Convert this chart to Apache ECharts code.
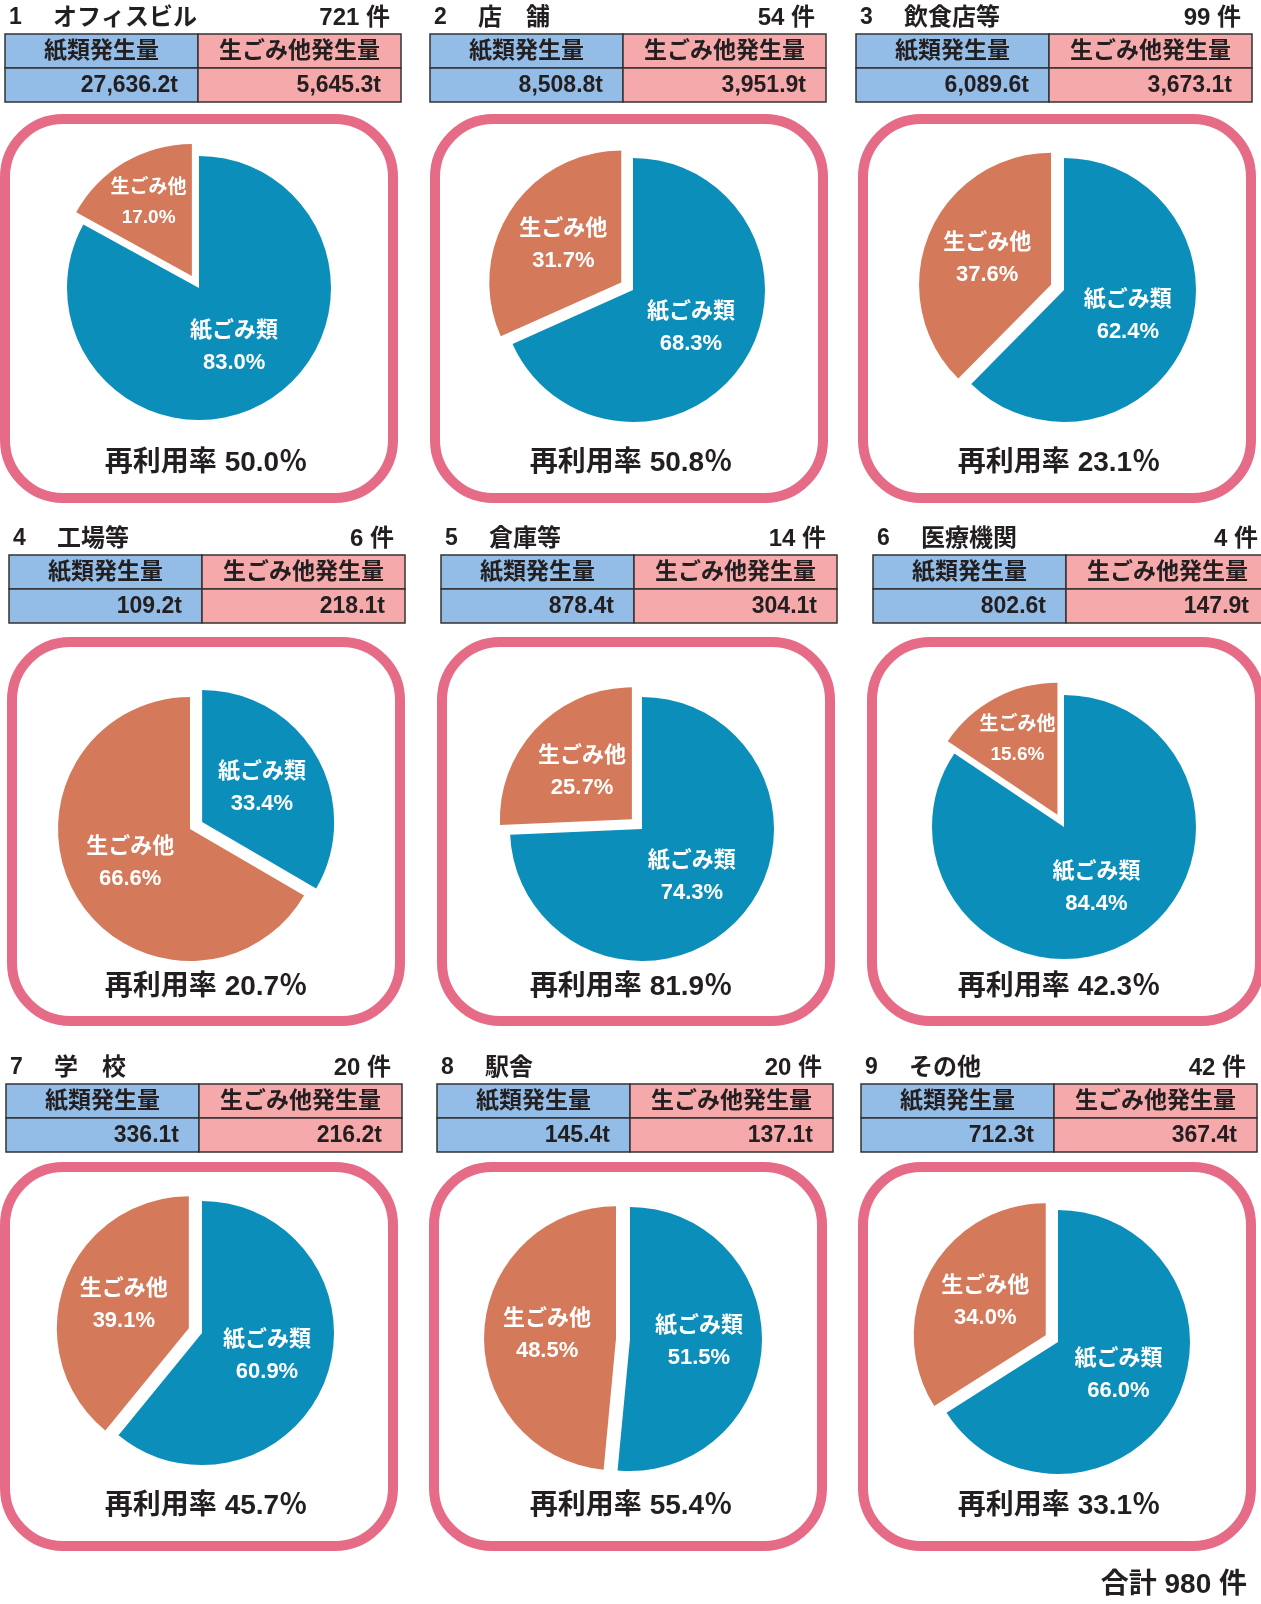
<!DOCTYPE html>
<html>
<head>
<meta charset="utf-8">
<script src="https://cdn.jsdelivr.net/npm/echarts@6/dist/echarts.min.js"></script>
<style>
  html, body { margin: 0; padding: 0; background: #fff; }
  #chart { width: 1261px; height: 1604px; }
</style>
</head>
<body>
<div id="chart"></div>
<script>
// data
var facilities = ['オフィスビル', '店　舗', '飲食店等', '工場等', '倉庫等', '医療機関', '学　校', '駅舎', 'その他'];
var counts = [721, 54, 99, 6, 14, 4, 20, 20, 42];
var paperAmount = [27636.2, 8508.8, 6089.6, 109.2, 878.4, 802.6, 336.1, 145.4, 712.3];
var foodAmount = [5645.3, 3951.9, 3673.1, 218.1, 304.1, 147.9, 216.2, 137.1, 367.4];
var paperShare = [83.0, 68.3, 62.4, 33.4, 74.3, 84.4, 60.9, 51.5, 66.0];
var foodShare = [17.0, 31.7, 37.6, 66.6, 25.7, 15.6, 39.1, 48.5, 34.0];
var reuseRate = [50.0, 50.8, 23.1, 20.7, 81.9, 42.3, 45.7, 55.4, 33.1];
var sliceNames = ['紙ごみ類', '生ごみ他'];
var totalCount = 980;

// layout
var boxLeft = [0, 430, 858, 7, 437, 867, 0, 429, 858];
var boxTop = [114, 114, 114, 637, 637, 637, 1162, 1162, 1162];
var tableLeft = [5, 430, 856, 9, 441, 873, 6, 437, 861];
var tableTop = [34, 34, 34, 555, 555, 555, 1084, 1084, 1084];
var pieCenter = [[199, 288], [633, 290], [1064, 290], [190, 829], [642, 829], [1064, 827], [202, 1333], [630, 1339], [1058, 1342]];
var rateX = [206, 631, 1059, 206, 631, 1059, 206, 631, 1059];
var rateY = [463, 463, 463, 987, 987, 987, 1506, 1506, 1506];

var FONT = "'Liberation Sans', 'Noto Sans CJK JP', sans-serif";
var PAPER = '#0c8ebb', FOOD = '#d4795a', FRAME = '#e56b86';
var HEAD_BLUE = '#93bce6', HEAD_PINK = '#f5a9aa';

function fmt(v) {
    return v.toLocaleString('en-US', { minimumFractionDigits: 1, maximumFractionDigits: 1 }) + 't';
}

function txt(text, x, y, size, align, color, weight) {
    return {
        type: 'text', z: 10, silent: true,
        style: {
            text: text, x: x, y: y, fill: color || '#231f20',
            font: (weight || 'bold') + ' ' + size + 'px ' + FONT,
            align: align || 'left', verticalAlign: 'middle'
        }
    };
}

// thin slices: push the label a bit outwards so it stays inside the wedge
function nudgeThin(p) {
    var share = p.dataIndex === 0 ? paperShare[p.seriesIndex] : foodShare[p.seriesIndex];
    if (share >= 20) return {};
    var c = pieCenter[p.seriesIndex];
    var r = p.labelRect;
    var vx = r.x + r.width / 2 - c[0], vy = r.y + r.height / 2 - c[1];
    var d = Math.sqrt(vx * vx + vy * vy) || 1;
    return { dx: vx / d * 16, dy: vy / d * 16 };
}

var graphics = [];
var series = [];
var tw = 396, split = 193, rh = 34;

for (var i = 0; i < 9; i++) {
    // rounded frame
    graphics.push({
        type: 'rect', z: 0, silent: true,
        shape: { x: boxLeft[i] + 5, y: boxTop[i] + 5, width: 388, height: 379, r: 58 },
        style: { fill: '#fff', stroke: FRAME, lineWidth: 10 }
    });

    // title line
    var tl = tableLeft[i], tt = tableTop[i];
    graphics.push(txt(String(i + 1), tl + 4, tt - 16, 23, 'left'));
    graphics.push(txt(facilities[i], tl + 48, tt - 16, 24, 'left'));
    graphics.push(txt(counts[i] + ' 件', tl + tw - 11, tt - 16, 24, 'right'));

    // table cells
    var cells = [
        [tl, tt, split, HEAD_BLUE], [tl + split, tt, tw - split, HEAD_PINK],
        [tl, tt + rh, split, HEAD_BLUE], [tl + split, tt + rh, tw - split, HEAD_PINK]
    ];
    cells.forEach(function (c) {
        graphics.push({
            type: 'rect', z: 5, silent: true,
            shape: { x: c[0], y: c[1], width: c[2], height: rh },
            style: { fill: c[3], stroke: '#333', lineWidth: 1.5 }
        });
    });
    graphics.push(txt('紙類発生量', tl + split / 2, tt + rh / 2 + 1, 23, 'center'));
    graphics.push(txt('生ごみ他発生量', tl + split + (tw - split) / 2, tt + rh / 2 + 1, 23, 'center'));
    graphics.push(txt(fmt(paperAmount[i]), tl + split - 20, tt + rh * 1.5 + 1, 23, 'right'));
    graphics.push(txt(fmt(foodAmount[i]), tl + tw - 20, tt + rh * 1.5 + 1, 23, 'right'));

    // reuse rate
    graphics.push(txt('再利用率 ' + reuseRate[i].toFixed(1) + '％', rateX[i], rateY[i], 28, 'center'));

    var smallFood = foodShare[i] < paperShare[i];
    series.push({
        type: 'pie',
        z: 3,
        center: pieCenter[i],
        radius: 132,
        startAngle: 90,
        clockwise: true,
        selectedMode: 'multiple',
        selectedOffset: 14,
        animation: false,
        emphasis: { disabled: true },
        select: { itemStyle: { borderWidth: 0 } },
        labelLine: { show: false },
        labelLayout: nudgeThin,
        label: {
            show: true,
            position: 'inside',
            color: '#fff',
            fontFamily: FONT,
            fontSize: 22,
            fontWeight: 'bold',
            lineHeight: 32,
            formatter: function (p) { return p.name + '\n' + p.value.toFixed(1) + '%'; }
        },
        data: [
            { name: sliceNames[0], value: paperShare[i], selected: !smallFood, itemStyle: { color: PAPER } },
            {
                name: sliceNames[1], value: foodShare[i], selected: smallFood, itemStyle: { color: FOOD },
                // thin slices get a smaller label, as in the original
                label: foodShare[i] < 20 ? { fontSize: 19, lineHeight: 30 } : undefined
            }
        ]
    });
}

graphics.push(txt('合計 ' + totalCount + ' 件', 1247, 1585, 28, 'right'));

var chart = echarts.init(document.getElementById('chart'));
chart.setOption({
    backgroundColor: '#fff',
    animation: false,
    graphic: { elements: graphics },
    series: series
});
</script>
</body>
</html>
